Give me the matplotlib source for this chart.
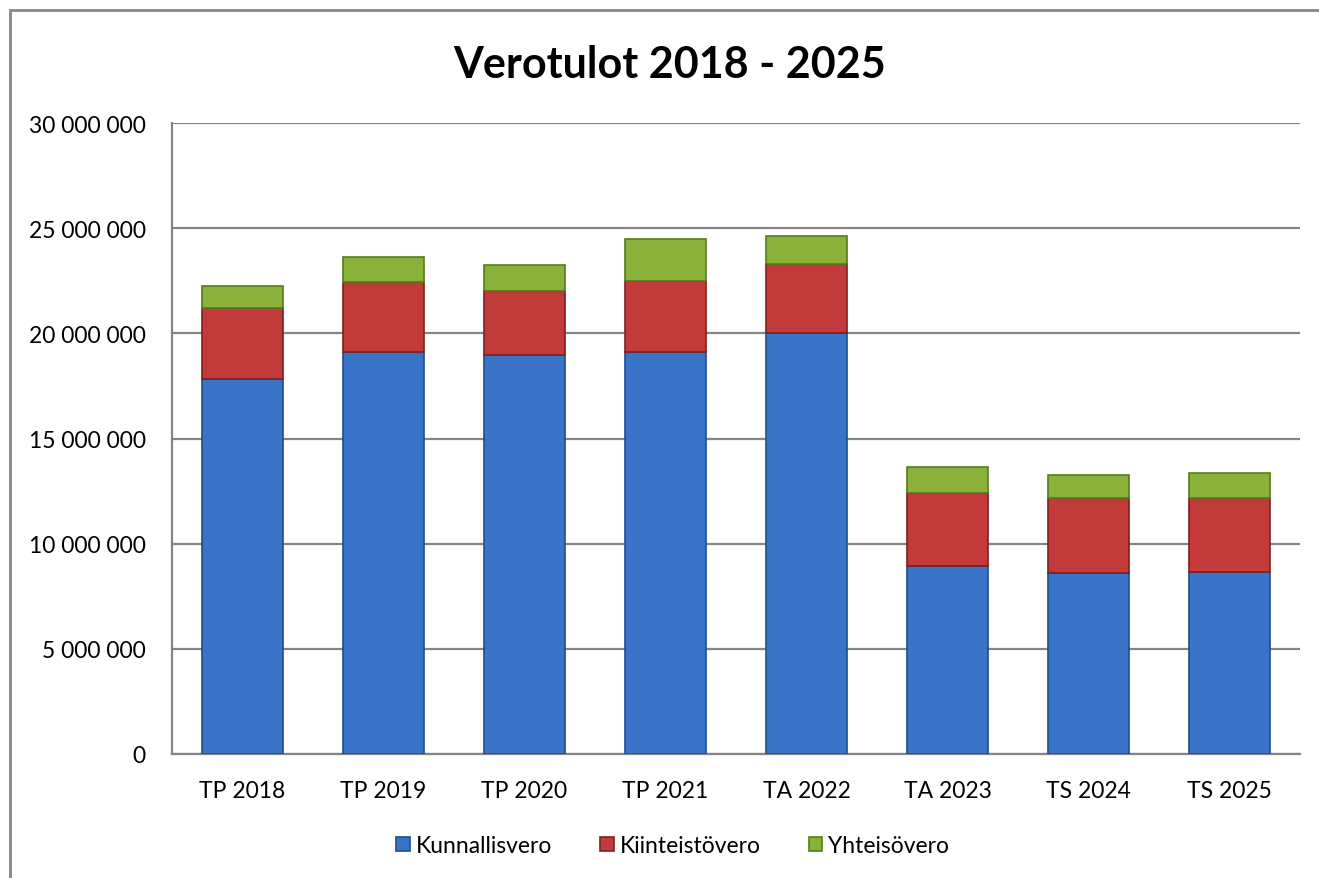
import numpy as np
import matplotlib.pyplot as plt
from matplotlib.ticker import FuncFormatter, MultipleLocator
from matplotlib.patches import Rectangle

plt.rcParams['font.family'] = ['Lato', 'DejaVu Sans']

categories = ["TP 2018", "TP 2019", "TP 2020", "TP 2021", "TA 2022", "TA 2023", "TS 2024", "TS 2025"]
kunnallisvero = [17830000, 19110000, 18970000, 19110000, 20000000, 8920000, 8610000, 8670000]
kiinteistovero = [3370000, 3330000, 3060000, 3390000, 3300000, 3490000, 3550000, 3490000]
yhteisovero = [1050000, 1190000, 1220000, 1990000, 1310000, 1250000, 1120000, 1190000]

series = [
    ("Kunnallisvero", kunnallisvero, "#3A74C8", "#1F4E8F"),
    ("Kiinteistövero", kiinteistovero, "#C23A3A", "#7E2020"),
    ("Yhteisövero", yhteisovero, "#8AB23A", "#587A1E"),
]

fig = plt.figure(figsize=(13.19, 8.79), dpi=100)
ax = fig.add_axes([0.1304, 0.1411, 0.8552, 0.7178])

x = np.arange(len(categories))
bottom = np.zeros(len(categories))
for name, vals, col, edge in series:
    vals = np.array(vals, dtype=float)
    ax.bar(x, vals, 0.575, bottom=bottom, color=col, edgecolor=edge,
           linewidth=1.2, label=name, zorder=3)
    bottom += vals

ax.set_xlim(-0.5, len(categories) - 0.5)
ax.set_ylim(0, 30000000)
ax.yaxis.set_major_locator(MultipleLocator(5000000))
ax.yaxis.set_major_formatter(FuncFormatter(lambda v, p: f"{int(v):,}".replace(",", " ")))
ax.set_xticks(x)
ax.set_xticklabels(categories)

ax.grid(axis='y', color='#858585', linewidth=1.6, zorder=0)
for s in ['top', 'right']:
    ax.spines[s].set_visible(False)
ax.spines['left'].set_color('#858585')
ax.spines['bottom'].set_color('#858585')
ax.spines['left'].set_linewidth(1.6)
ax.spines['bottom'].set_linewidth(1.6)
ax.tick_params(axis='y', length=0, pad=19, labelsize=16.5, colors='black')
ax.tick_params(axis='x', length=0, pad=19, labelsize=16.5, colors='black')

fig.text(0.5076, 0.926, "Verotulot 2018 - 2025", ha='center', va='center',
         fontsize=31, fontweight='bold')

fig.legend(loc='center', bbox_to_anchor=(0.51, 0.037), ncol=3, frameon=False,
           fontsize=16.5, handlelength=0.6, handleheight=0.6, handletextpad=0.25,
           columnspacing=2.1)

fig.add_artist(Rectangle((10 / 1319, -0.02), 1.02, 1 - 11 / 879 + 0.02,
                         transform=fig.transFigure, fill=False,
                         edgecolor='#878787', linewidth=2))

fig.savefig("out.png", dpi=100)
